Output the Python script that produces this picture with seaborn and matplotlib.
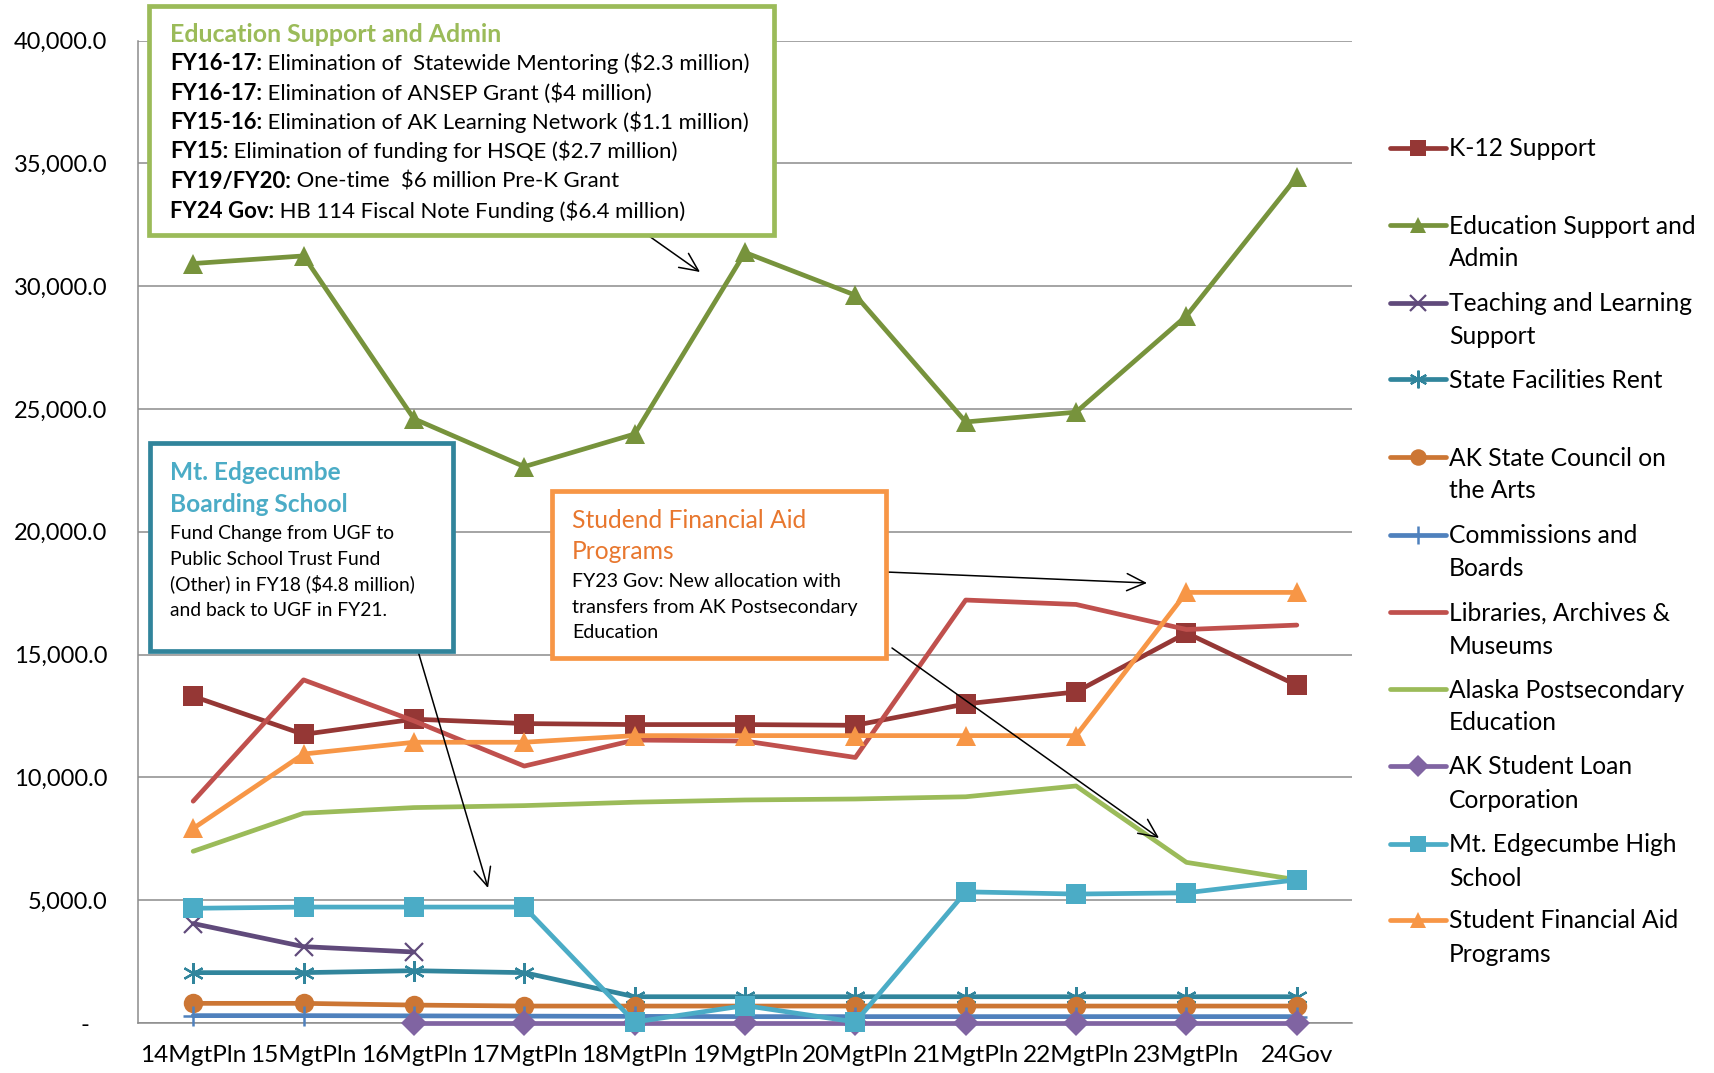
import numpy as np
import matplotlib
matplotlib.use("Agg")
import matplotlib.pyplot as plt
import seaborn as sns
from matplotlib.lines import Line2D
from matplotlib.patches import Rectangle
from matplotlib.ticker import FuncFormatter, MultipleLocator

# ---------------- data ----------------
categories = ["14MgtPln", "15MgtPln", "16MgtPln", "17MgtPln", "18MgtPln", "19MgtPln",
              "20MgtPln", "21MgtPln", "22MgtPln", "23MgtPln", "24Gov"]
nan = np.nan
k12_support = [13300, 11750, 12370, 12190, 12150, 12150, 12120, 12990, 13480, 15880, 13750]
edu_support_admin = [30920, 31230, 24600, 22650, 23980, 31370, 29630, 24470, 24870, 28790, 34440]
teaching_learning = [4050, 3110, 2890, nan, nan, nan, nan, nan, nan, nan, nan]
state_facilities_rent = [2050, 2050, 2130, 2050, 1070, 1070, 1070, 1070, 1070, 1070, 1070]
arts_council = [800, 800, 730, 690, 690, 690, 690, 690, 690, 690, 690]
commissions_boards = [300, 300, 290, 280, 270, 260, 260, 260, 260, 260, 260]
libraries_archives = [9030, 13970, 12300, 10460, 11520, 11480, 10810, 17220, 17040, 16020, 16200]
ak_postsecondary = [6990, 8540, 8770, 8850, 8990, 9080, 9120, 9210, 9650, 6540, 5830]
student_loan_corp = [nan, nan, 10, 10, 10, 10, 10, 10, 10, 10, 10]
mt_edgecumbe = [4670, 4720, 4720, 4720, 40, 710, 40, 5340, 5250, 5300, 5830]
student_fin_aid = [7920, 10950, 11430, 11430, 11700, 11700, 11700, 11700, 11700, 17530, 17530]

series_names = ["K-12 Support", "Education Support and Admin", "Teaching and Learning Support",
                "State Facilities Rent", "AK State Council on the Arts", "Commissions and Boards",
                "Libraries, Archives & Museums", "Alaska Postsecondary Education",
                "AK Student Loan Corporation", "Mt. Edgecumbe High School",
                "Student Financial Aid Programs"]
legend_labels = [["K-12 Support"], ["Education Support and", "Admin"],
                 ["Teaching and Learning", "Support"], ["State Facilities Rent"],
                 ["AK State Council on", "the Arts"], ["Commissions and", "Boards"],
                 ["Libraries, Archives &", "Museums"], ["Alaska Postsecondary", "Education"],
                 ["AK Student Loan", "Corporation"], ["Mt. Edgecumbe High", "School"],
                 ["Student Financial Aid", "Programs"]]
series_values = [k12_support, edu_support_admin, teaching_learning, state_facilities_rent,
                 arts_council, commissions_boards, libraries_archives, ak_postsecondary,
                 student_loan_corp, mt_edgecumbe, student_fin_aid]

# ---------------- styles ----------------
colors = ["#953735", "#77933C", "#604A7B", "#31859C", "#CC7634", "#4F81BD",
          "#C0504D", "#9BBB59", "#8064A2", "#4BACC6", "#F79646"]
markers = ["s", "^", "x", (6, 2, 0), "o", "+", None, None, "D", "s", "^"]
msizes = [14, 14, 13, 15, 14, 15, 0, 0, 13, 14, 14]
mews = [0, 0, 1.6, 1.6, 0, 1.8, 0, 0, 0, 0, 0]

sns.set_theme(style="white")
plt.rcParams["font.family"] = ["Lato", "DejaVu Sans"]

W, H = 1714, 1073
fig = plt.figure(figsize=(W / 100, H / 100), dpi=100)


def fx(px):
    return px / W


def fy(py):
    return 1 - py / H


ax = fig.add_axes([fx(138), fy(1023), (1352 - 138) / W, (1023 - 40.5) / H])

x = np.arange(len(categories))
for vals, c, m, ms, mew in zip(series_values, colors, markers, msizes, mews):
    kw = dict(color=c, linewidth=3.4, markeredgecolor=c, markeredgewidth=mew, clip_on=False)
    if m is not None:
        kw.update(marker=m, markersize=ms)
    sns.lineplot(x=x, y=np.array(vals, dtype=float), ax=ax, sort=False, legend=False,
                 errorbar=None, **kw)

ax.set_xlim(-0.5, len(categories) - 0.5)
ax.set_ylim(0, 40000)
ax.yaxis.set_major_locator(MultipleLocator(5000))
ax.yaxis.set_major_formatter(FuncFormatter(lambda v, p: "-   " if v == 0 else f"{v:,.1f}"))
ax.set_xticks(x)
ax.set_xticklabels(categories)
ax.tick_params(axis="y", length=0, pad=22, labelsize=17, labelcolor="black")
ax.tick_params(axis="x", length=0, pad=16, labelsize=17.6, labelcolor="black")
ax.set_xlabel("")
ax.set_ylabel("")
ax.grid(axis="y", color="#8C8C8C", linewidth=1.1)
ax.set_axisbelow(True)
for s in ["top", "right"]:
    ax.spines[s].set_visible(False)
for s in ["left", "bottom"]:
    ax.spines[s].set_color("#8C8C8C")
    ax.spines[s].set_linewidth(1.1)
    ax.spines[s].set_zorder(0.5)

# ---------------- legend (manual, right side) ----------------
leg_centers = [147.6, 225, 303, 379, 457, 534.5, 612, 689, 766, 844, 920]
for lab, c, m, ms, mew, yc in zip(legend_labels, colors, markers, msizes, mews, leg_centers):
    ln = Line2D([fx(1390), fx(1418), fx(1446)], [fy(yc)] * 3, transform=fig.transFigure,
                color=c, linewidth=3.4, marker=m if m is not None else "",
                markersize=ms * 0.85, markeredgecolor=c, markeredgewidth=mew, markevery=[1])
    fig.add_artist(ln)
    for i, t in enumerate(lab):
        fig.text(fx(1449), fy(yc + 8.5 + 33 * i), t, fontsize=17.7, color="black",
                 va="baseline", ha="left")

# ---------------- annotation boxes ----------------
def box(x0, y0, x1, y1, ec):
    r = Rectangle((fx(x0), fy(y1)), (x1 - x0) / W, (y1 - y0) / H, transform=fig.transFigure,
                  facecolor="white", edgecolor=ec, linewidth=3.4, zorder=5)
    fig.add_artist(r)


box(149, 6, 774, 235, "#9BBB59")
box(150, 443, 453, 651, "#31849B")
box(552, 491, 886, 658, "#F79646")

fig.text(fx(170), fy(41.5), "Education Support and Admin", fontsize=17.9, fontweight="bold",
         color="#9BBB59", va="baseline", zorder=6)
green_lines = [("FY16-17:", " Elimination of  Statewide Mentoring ($2.3 million)"),
               ("FY16-17:", " Elimination of ANSEP Grant ($4 million)"),
               ("FY15-16:", " Elimination of AK Learning Network ($1.1 million)"),
               ("FY15:", " Elimination of funding for HSQE ($2.7 million)"),
               ("FY19/FY20:", " One-time  $6 million Pre-K Grant"),
               ("FY24 Gov:", " HB 114 Fiscal Note Funding ($6.4 million)")]
green_base = [70, 99.5, 129, 158.5, 188, 217.5]
prefix_texts = []
for (pre, rest), yb in zip(green_lines, green_base):
    t = fig.text(fx(170), fy(yb), pre, fontsize=15.9, fontweight="bold", color="black",
                 va="baseline", zorder=6)
    prefix_texts.append((t, rest, yb))
fig.canvas.draw()
rend = fig.canvas.get_renderer()
for t, rest, yb in prefix_texts:
    bb = t.get_window_extent(rend)
    fig.text(bb.x1 / W, fy(yb), rest, fontsize=15.9, color="black", va="baseline", zorder=6)

for i, s in enumerate(["Mt. Edgecumbe", "Boarding School"]):
    fig.text(fx(170), fy([480, 511.5][i]), s, fontsize=17.6, fontweight="bold",
             color="#4BACC6", va="baseline", zorder=6)
for s, yb in zip(["Fund Change from UGF to", "Public School Trust Fund",
                  "(Other) in FY18 ($4.8 million)", "and back to UGF in FY21."],
                 [539, 565, 590.5, 616.5]):
    fig.text(fx(170), fy(yb), s, fontsize=13.9, color="black", va="baseline", zorder=6)

for s, yb in zip(["Studend Financial Aid", "Programs"], [528, 559]):
    fig.text(fx(572), fy(yb), s, fontsize=17.7, color="#E8772E", va="baseline", zorder=6)
for s, yb in zip(["FY23 Gov: New allocation with", "transfers from AK Postsecondary",
                  "Education"], [587, 613, 638]):
    fig.text(fx(572), fy(yb), s, fontsize=14.1, color="black", va="baseline", zorder=6)

# ---------------- arrows ----------------
arrows = [((649, 236), (700, 272)), ((418, 651), (488, 888)),
          ((886, 572), (1147, 583)), ((892, 648), (1159, 838))]
for (tx, ty), (hx, hy) in arrows:
    ax.annotate("", xy=(fx(hx), fy(hy)), xytext=(fx(tx), fy(ty)),
                xycoords="figure fraction", textcoords="figure fraction",
                arrowprops=dict(arrowstyle="->,head_length=0.6,head_width=0.28", color="black",
                                lw=1.1, mutation_scale=22, shrinkA=0, shrinkB=0), zorder=7)

fig.savefig("out.png", dpi=100)
